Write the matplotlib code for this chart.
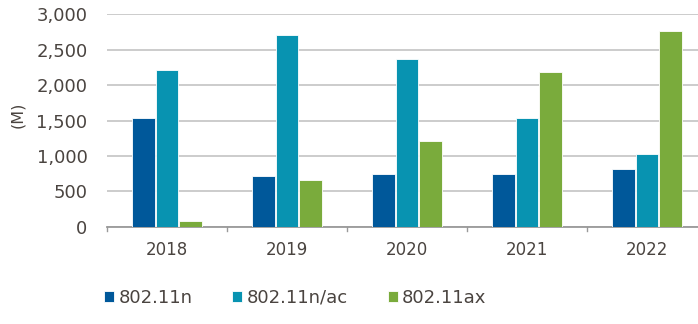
import matplotlib
matplotlib.use("Agg")
import matplotlib.pyplot as plt
import numpy as np

years = ["2018", "2019", "2020", "2021", "2022"]
series_names = ["802.11n", "802.11n/ac", "802.11ax"]
n_vals = [1540, 716, 740, 740, 810]
nac_vals = [2213, 2707, 2364, 1540, 1031]
ax_vals = [80, 660, 1210, 2180, 2764]
yticks = [0, 500, 1000, 1500, 2000, 2500, 3000]

colors = ["#00589A", "#0893B1", "#7AAB3C"]
text_color = "#4a4440"

plt.rcParams['font.family'] = ['DejaVu Sans']

fig = plt.figure(figsize=(6.98, 3.24), dpi=100)
W, H = 698, 324
left = 107 / W
bottom = (H - 226.7) / H
top = (H - 14.3) / H
ax = fig.add_axes([left, bottom, 1 - left, top - bottom])

x = np.arange(len(years))
bw = 0.19
off = 0.196
for i, (vals, c, name) in enumerate(zip([n_vals, nac_vals, ax_vals], colors, series_names)):
    ax.bar(x + (i - 1) * off, vals, width=bw, color=c, edgecolor="white", linewidth=0.6,
           label=name, zorder=3)

ax.set_xlim(-0.5, (W - 107) / 120 - 0.5)
ax.set_ylim(0, 3000)
ax.set_yticks(yticks)
ax.set_yticklabels([f"{v:,}" for v in yticks], fontsize=13, color=text_color)
ax.tick_params(axis='y', length=0, pad=14)
ax.yaxis.grid(True, color="#c8c8c8", linewidth=1.3, zorder=0)
ax.set_axisbelow(True)

ax.set_xticks(x)
ax.set_xticklabels(years, fontsize=12, color=text_color)
ax.tick_params(axis='x', length=0, pad=10)
for b in np.arange(-0.5, len(years), 1.0):
    ax.plot([b, b], [0, -0.022], transform=ax.get_xaxis_transform(), color="#9a9a9a",
            linewidth=1, clip_on=False)

for s in ["top", "right", "left"]:
    ax.spines[s].set_visible(False)
ax.spines["bottom"].set_color("#9a9a9a")
ax.spines["bottom"].set_linewidth(1.3)

fig.text(18 / W, (H - 115) / H, "(M)", rotation=90, fontsize=11.5, color=text_color,
         ha="center", va="center")

leg = fig.legend(loc="center left", bbox_to_anchor=(88 / W, (H - 298) / H), ncol=3,
                 frameon=False, fontsize=13, handlelength=0.55, handleheight=0.55,
                 handletextpad=0.25, columnspacing=2.2, labelcolor=text_color)

fig.savefig("out.png", dpi=100)
